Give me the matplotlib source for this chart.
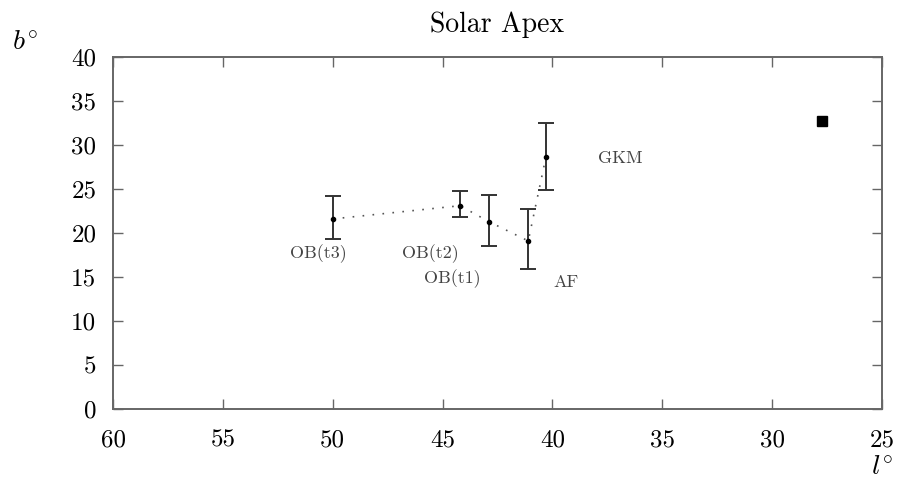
import matplotlib
matplotlib.use("Agg")
import matplotlib.pyplot as plt

# Data
names = ["OB(t3)", "OB(t2)", "OB(t1)", "AF", "GKM"]
l_vals = [50.0, 44.2, 42.9, 41.1, 40.3]
b_vals = [21.6, 23.1, 21.3, 19.1, 28.6]
b_err_low = [2.3, 1.3, 2.8, 3.2, 3.7]
b_err_high = [2.6, 1.7, 3.0, 3.6, 3.9]
label_l = [50.67, 45.57, 44.57, 39.38, 36.92]
label_b = [17.7, 17.7, 14.8, 14.4, 28.5]
apex_l = [27.75]
apex_b = [32.7]
x_ticks = [60, 55, 50, 45, 40, 35, 30, 25]
y_ticks = [0, 5, 10, 15, 20, 25, 30, 35, 40]

plt.rcParams['font.family'] = ['cmr10', 'DejaVu Serif']
plt.rcParams['mathtext.fontset'] = 'cm'
plt.rcParams['axes.formatter.use_mathtext'] = True

fig = plt.figure(figsize=(8.98, 4.86), dpi=100)
ax = fig.add_axes([113/898, 1-409/486, (882-113)/898, (409-57)/486])

ax.plot(l_vals, b_vals, linestyle=(0, (1, 5)), color='#555555', lw=1.2)
ax.errorbar(l_vals, b_vals, yerr=[b_err_low, b_err_high], fmt='o', ms=3,
            color='black', ecolor='#333333', elinewidth=1.4, capsize=6, capthick=1.4)
ax.plot(apex_l, apex_b, 's', color='black', ms=7)

for n, x, y in zip(names, label_l, label_b):
    ax.text(x, y, n, fontsize=13, ha='center', va='center', color='#444444')

ax.set_xlim(60, 25)
ax.set_ylim(0, 40)
ax.set_xticks(x_ticks)
ax.set_yticks(y_ticks)
ax.set_xticklabels([str(v) for v in x_ticks])
ax.set_yticklabels([str(v) for v in y_ticks])
ax.tick_params(direction='in', length=7, width=1, color='#666666',
               top=True, right=True, labelsize=18)
ax.tick_params(axis='x', pad=15)
ax.tick_params(axis='y', pad=12)
for s in ax.spines.values():
    s.set_color('#666666')
    s.set_linewidth(1.4)

ax.set_title("Solar Apex", fontsize=20, pad=18)
fig.text(25/898, 1-43/486, r"$b^{\circ}$", fontsize=20, ha='center', va='center')
fig.text(882/898, 1-468/486, r"$l^{\circ}$", fontsize=20, ha='center', va='center')

fig.savefig("out.png", dpi=100)
